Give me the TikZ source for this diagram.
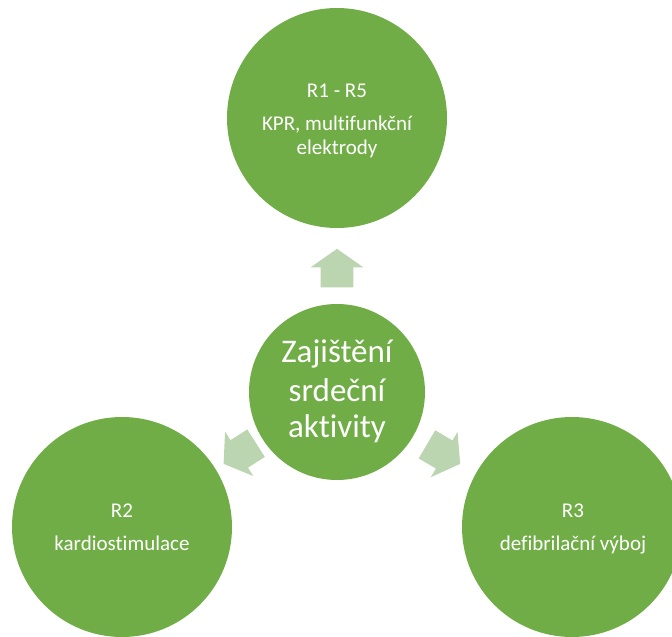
\documentclass[tikz,border=0pt]{standalone}
\usepackage{fontspec}
\setmainfont{Carlito}[Ligatures={NoCommon}]
\definecolor{circgreen}{HTML}{70AD47}
\definecolor{arrowgreen}{HTML}{BCD5B1}
\tikzset{
  bigcirc/.style={circle, fill=circgreen, draw=none, inner sep=0pt, minimum size=220pt},
  midcirc/.style={circle, fill=circgreen, draw=none, inner sep=0pt, minimum size=176pt},
  lbl/.style={text=white, anchor=base, inner sep=0pt, font=\fontsize{21}{24}\selectfont},
  biglbl/.style={text=white, anchor=base, inner sep=0pt, font=\fontsize{33}{37}\selectfont},
  blockarrow/.style={fill=arrowgreen, draw=none}
}
\newcommand{\radarrow}[3]{%
  \begin{scope}[shift={(#1,#2)}, rotate=#3]
    \fill[blockarrow] (0pt,18.5pt) -- (26.3pt,0pt) -- (16.3pt,0pt) -- (16.3pt,-20pt)
      -- (-16.3pt,-20pt) -- (-16.3pt,0pt) -- (-26.3pt,0pt) -- cycle;
  \end{scope}}
\begin{document}
\begin{tikzpicture}[x=1pt, y=-1pt]
  \useasboundingbox (0,0) rectangle (672,637);
  \clip (0,0) rectangle (672,637);
  % circles
  \node[bigcirc] (top) at (337,118) {};
  \node[midcirc] (mid) at (337,392) {};
  \node[bigcirc] (left) at (122,527) {};
  \node[bigcirc] (right) at (572,527) {};
  % block arrows
  \radarrow{337}{267.3}{0}
  \radarrow{239.2}{453.9}{122.5}
  \radarrow{444.2}{454.5}{-120.5}
  % top texts
  \node[lbl] (t1) at (337,97.3) {R1 - R5};
  \node[lbl] (t2) at (337,130.7) {KPR, multifunkční};
  \node[lbl] (t3) at (337,154) {elektrody};
  % middle texts
  \node[biglbl] (m1) at (337,362.7) {Zajištění};
  \node[biglbl] (m2) at (337,401.2) {srdeční};
  \node[biglbl] (m3) at (337,437.5) {aktivity};
  % left texts
  \node[lbl] (l1) at (122,517.3) {R2};
  \node[lbl] (l2) at (122,550.7) {kardiostimulace};
  % right texts
  \node[lbl] (r1) at (573,517.3) {R3};
  \node[lbl] (r2) at (573,550.7) {defibrilační výboj};
\end{tikzpicture}
\end{document}
